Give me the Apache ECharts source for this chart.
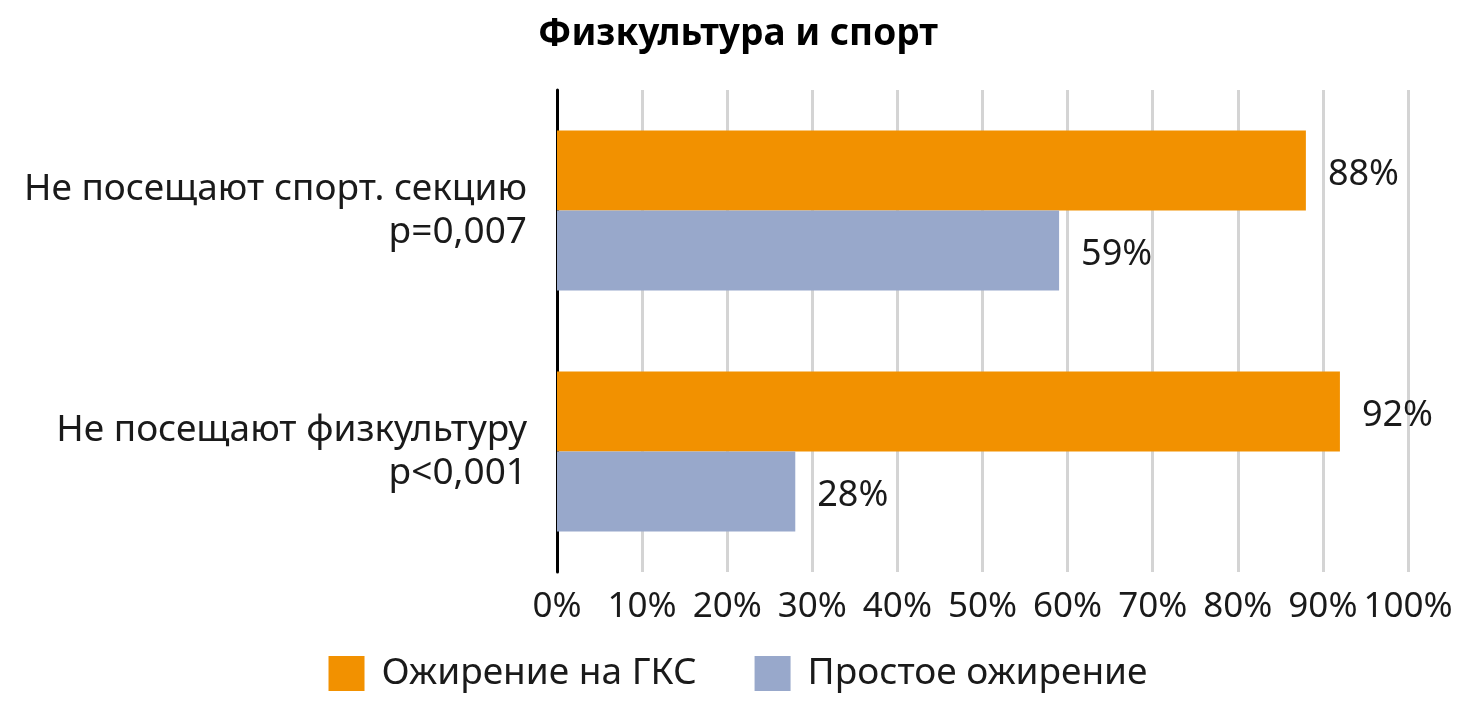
<!DOCTYPE html>
<html>
<head>
<meta charset="utf-8">
<script src="https://cdn.jsdelivr.net/npm/echarts@6/dist/echarts.min.js"></script>
<style>
  html, body { margin: 0; padding: 0; background: #fff; }
  #chart { width: 1476px; height: 705px; }
</style>
</head>
<body>
<div id="chart"></div>
<script>
// данные с картинки
var categories = ['Не посещают спорт. секцию\np=0,007', 'Не посещают физкультуру\np<0,001'];
var seriesNames = ['Ожирение на ГКС', 'Простое ожирение'];
var gksValues = [88, 92];
var simpleValues = [59, 28];
var xTicks = [0, 10, 20, 30, 40, 50, 60, 70, 80, 90, 100];

var font = 'Noto Sans';
var textColor = '#1a1a1a';

var myChart = echarts.init(document.getElementById('chart'));

var labelStyle = {
    show: true,
    position: 'right',
    distance: 22,
    offset: [0, 4],
    formatter: '{c}%',
    fontFamily: font,
    fontSize: 36,
    color: textColor
};

var option = {
    animation: false,
    title: {
        text: 'Физкультура и спорт',
        left: 'center',
        top: 11,
        textStyle: { fontFamily: font, fontSize: 37, fontWeight: 'bold', color: '#000' }
    },
    legend: {
        bottom: 8,
        left: 'center',
        itemWidth: 36,
        itemHeight: 35,
        itemGap: 58,
        icon: 'rect',
        textStyle: { fontFamily: font, fontSize: 37, color: textColor, padding: [0, 0, 0, 12] },
        data: seriesNames
    },
    grid: { left: 557, right: 68, top: 90, bottom: 133, containLabel: false },
    xAxis: {
        type: 'value',
        min: xTicks[0],
        max: xTicks[xTicks.length - 1],
        interval: 10,
        axisLine: { show: false },
        axisTick: { show: false },
        splitLine: { show: true, lineStyle: { color: '#d4d4d4', width: 3 } },
        axisLabel: {
            formatter: '{value}%',
            fontFamily: font,
            fontSize: 35,
            color: textColor,
            margin: 18
        }
    },
    yAxis: {
        type: 'category',
        inverse: true,
        data: categories,
        axisLine: { show: true, lineStyle: { color: '#000', width: 3 } },
        axisTick: { show: false },
        axisLabel: {
            fontFamily: font,
            fontSize: 37,
            color: textColor,
            lineHeight: 43,
            align: 'right',
            margin: 30
        }
    },
    series: [
        {
            name: seriesNames[0],
            type: 'bar',
            data: gksValues,
            barGap: '0%',
            barCategoryGap: '33.6%',
            itemStyle: { color: '#F29100' },
            label: labelStyle
        },
        {
            name: seriesNames[1],
            type: 'bar',
            data: simpleValues,
            itemStyle: { color: '#98A8CB' },
            label: labelStyle
        }
    ]
};

myChart.setOption(option);
</script>
</body>
</html>
